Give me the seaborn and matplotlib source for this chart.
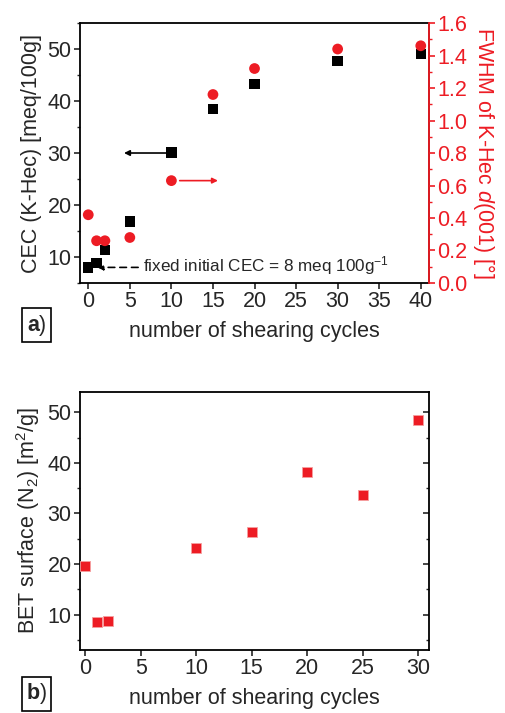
import matplotlib
matplotlib.use("Agg")
import matplotlib.pyplot as plt
import seaborn as sns
import pandas as pd
from matplotlib.ticker import MultipleLocator

# ---- data ----
cycles_a = [0, 1, 2, 5, 10, 15, 20, 30, 40]
cec = [8.0, 8.9, 11.3, 16.8, 30.1, 38.4, 43.3, 47.7, 49.0]
fwhm = [0.42, 0.26, 0.26, 0.28, 0.63, 1.16, 1.32, 1.44, 1.46]

cycles_b = [0, 1, 2, 10, 15, 20, 25, 30]
bet = [19.7, 8.6, 8.8, 23.2, 26.4, 38.2, 33.6, 48.4]

RED = "#ED1C24"

sns.set_theme(style="ticks")
plt.rcParams['font.family'] = ['Liberation Sans', 'DejaVu Sans']
plt.rcParams['mathtext.fontset'] = 'custom'
plt.rcParams['mathtext.rm'] = 'Liberation Sans'
plt.rcParams['mathtext.it'] = 'Liberation Sans:italic'
plt.rcParams['mathtext.bf'] = 'Liberation Sans:bold'

fig = plt.figure(figsize=(5.06, 7.13), dpi=100)
ax = fig.add_axes([0.158, 0.6031, 0.690, 0.3646])
axb = fig.add_axes([0.158, 0.0884, 0.690, 0.3618])

TFS = 15.5
LFS = 15.5

dfa = pd.DataFrame({"cycles": cycles_a, "cec": cec, "fwhm": fwhm})
dfb = pd.DataFrame({"cycles": cycles_b, "bet": bet})

# ---- panel a ----
sns.scatterplot(data=dfa, x="cycles", y="cec", ax=ax, marker="s", s=55,
                color="black", edgecolor="none", zorder=3)
ax.set_xlim(-1, 41)
ax.set_ylim(5, 55)
ax.xaxis.set_major_locator(MultipleLocator(5))
ax.set_yticks([10, 20, 30, 40, 50])
ax.yaxis.set_minor_locator(MultipleLocator(5))
ax.tick_params(axis='both', which='major', direction='out', length=4, width=1.2,
               labelsize=TFS, top=False, pad=2)
ax.tick_params(axis='y', which='minor', direction='out', length=2.5, width=1.0)
ax.set_xlabel("number of shearing cycles", fontsize=LFS, labelpad=6)
ax.set_ylabel("CEC (K-Hec) [meq/100g]", fontsize=LFS, labelpad=4)
for sp in ax.spines.values():
    sp.set_linewidth(1.3)
    sp.set_color("black")

ax2 = ax.twinx()
sns.scatterplot(data=dfa, x="cycles", y="fwhm", ax=ax2, marker="o", s=60,
                color=RED, edgecolor="none", zorder=3)
ax2.set_ylim(0, 1.6)
ax2.yaxis.set_major_locator(MultipleLocator(0.2))
ax2.yaxis.set_minor_locator(MultipleLocator(0.1))
ax2.tick_params(axis='y', which='major', direction='out', length=4, width=1.2,
                colors=RED, labelsize=TFS, pad=2)
ax2.tick_params(axis='y', which='minor', direction='out', length=2.5, width=1.0,
                colors=RED)
ax2.yaxis.set_major_formatter(matplotlib.ticker.FormatStrFormatter('%.1f'))
ax2.spines['right'].set_color(RED)
ax2.spines['right'].set_linewidth(1.3)
for s in ['left', 'top', 'bottom']:
    ax2.spines[s].set_visible(False)
ax2.set_ylabel(r"FWHM of K-Hec $\mathit{d}$(001) [°]", fontsize=LFS, color=RED,
               rotation=270, labelpad=21)

# arrows
ax.annotate("", xy=(4.3, 30), xytext=(9.6, 30),
            arrowprops=dict(arrowstyle="-|>", color="black", lw=1.2,
                            mutation_scale=8, shrinkA=0, shrinkB=0))
ax2.annotate("", xy=(15.6, 0.63), xytext=(11.0, 0.63),
             arrowprops=dict(arrowstyle="-|>", color=RED, lw=1.2,
                             mutation_scale=8, shrinkA=0, shrinkB=0))
ax.annotate("", xy=(1.1, 8.0), xytext=(6.0, 8.0),
            arrowprops=dict(arrowstyle="-|>", color="black", lw=1.2,
                            linestyle=(0, (4, 3)), mutation_scale=8,
                            shrinkA=0, shrinkB=0), zorder=2)
ax.text(6.6, 8.3, r"fixed initial CEC = 8 meq 100g$^{-1}$", fontsize=12.3,
        va="center", ha="left")

fig.text(0.072, 0.544, r"$\mathbf{a}$)", fontsize=15.5, ha="center", va="center",
         bbox=dict(boxstyle="square,pad=0.2", fc="white", ec="black", lw=1.2))

# ---- panel b ----
sns.scatterplot(data=dfb, x="cycles", y="bet", ax=axb, marker="s", s=60,
                color=RED, edgecolor="#f5a0a0", linewidth=0.6, zorder=3)
axb.set_xlim(-0.5, 31)
axb.set_ylim(3, 54)
axb.xaxis.set_major_locator(MultipleLocator(5))
axb.set_yticks([10, 20, 30, 40, 50])
axb.yaxis.set_minor_locator(MultipleLocator(5))
axb.tick_params(axis='x', which='major', direction='out', length=4, width=1.2,
                labelsize=TFS, top=False, pad=2)
axb.tick_params(axis='y', which='major', direction='out', length=4, width=1.2,
                labelsize=TFS, right=True, pad=2)
axb.tick_params(axis='y', which='minor', direction='out', length=2.5, width=1.0,
                right=True)
for t in axb.yaxis.get_major_ticks() + axb.yaxis.get_minor_ticks():
    t.tick2line.set_marker(matplotlib.lines.TICKLEFT)
axb.set_xlabel("number of shearing cycles", fontsize=LFS, labelpad=6)
axb.set_ylabel(r"BET surface (N$_2$) [m$^2$/g]", fontsize=LFS, labelpad=4)
for sp in axb.spines.values():
    sp.set_linewidth(1.3)
    sp.set_color("black")

fig.text(0.072, 0.027, r"$\mathbf{b}$)", fontsize=15.5, ha="center", va="center",
         bbox=dict(boxstyle="square,pad=0.2", fc="white", ec="black", lw=1.2))

fig.savefig("out.png", dpi=100)
